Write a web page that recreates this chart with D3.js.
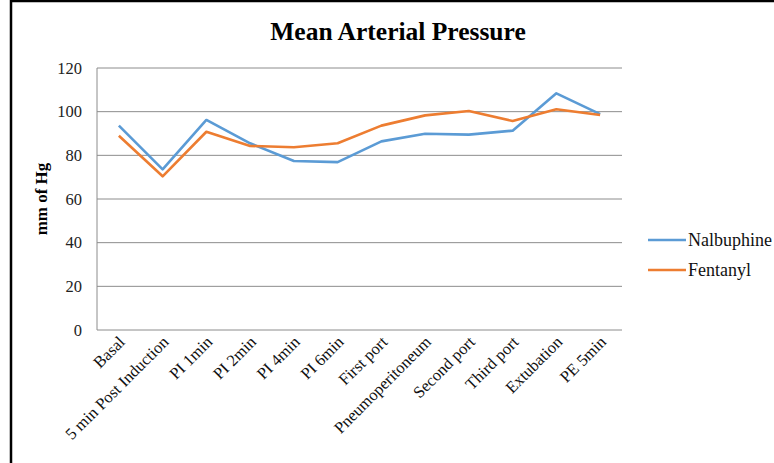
<!DOCTYPE html>
<html>
<head>
<meta charset="utf-8">
<script src="https://cdn.jsdelivr.net/npm/d3@7"></script>
<style>
	body { margin: 0; background: #fff; }
	svg { display: block; }
</style>
</head>
<body>
<div id="chart"></div>
<script>
const categories = ['Basal', '5 min Post Induction', 'PI 1min', 'PI 2min', 'PI 4min', 'PI 6min',
	'First port', 'Pneumoperitoneum', 'Second port', 'Third port', 'Extubation', 'PE 5min'];
const nalbuphine = [93.6, 73.6, 96.2, 85.5, 77.4, 76.9, 86.4, 89.9, 89.5, 91.3, 108.4, 98.9];
const fentanyl = [89.0, 70.4, 90.8, 84.3, 83.7, 85.5, 93.6, 98.3, 100.3, 95.7, 101.1, 98.5];
const yTicks = [0, 20, 40, 60, 80, 100, 120];

const series = [
	{ name: 'Nalbuphine', values: nalbuphine, color: '#5b9bd5' },
	{ name: 'Fentanyl', values: fentanyl, color: '#ed7d31' },
];

const width = 774;
const height = 463;
const plot = { left: 97, right: 622, top: 68, bottom: 330 };
const serif = '"Liberation Serif", "Times New Roman", serif';

const svg = d3.select('#chart').append('svg')
	.attr('width', width)
	.attr('height', height);

// outer frame
svg.append('rect')
	.attr('x', 11).attr('y', 1)
	.attr('width', width + 10).attr('height', height + 10)
	.attr('fill', 'none')
	.attr('stroke', '#000')
	.attr('stroke-width', 2.5);

const x = d3.scaleBand().domain(categories).range([plot.left, plot.right]);
const y = d3.scaleLinear().domain([0, 120]).range([plot.bottom, plot.top]);

// gridlines
svg.append('g')
	.selectAll('line')
	.data(yTicks)
	.join('line')
		.attr('x1', plot.left).attr('x2', plot.right)
		.attr('y1', d => y(d)).attr('y2', d => y(d))
		.attr('stroke', '#8c8c8c')
		.attr('stroke-width', 1);

// left axis line
svg.append('line')
	.attr('x1', plot.left).attr('x2', plot.left)
	.attr('y1', plot.top).attr('y2', plot.bottom)
	.attr('stroke', '#8c8c8c');

// y tick labels
const yAxis = svg.append('g')
	.attr('transform', `translate(${plot.left},0)`)
	.call(d3.axisLeft(y).tickValues(yTicks).tickSize(0).tickPadding(15));
yAxis.select('.domain').remove();
yAxis.selectAll('text')
	.attr('font-family', serif)
	.attr('font-size', 16.5)
	.attr('fill', '#222');

// x labels, rotated
const xAxis = svg.append('g')
	.attr('transform', `translate(0,${plot.bottom})`)
	.call(d3.axisBottom(x).tickSize(0).tickPadding(0));
xAxis.select('.domain').remove();
xAxis.selectAll('text')
	.attr('font-family', serif)
	.attr('font-size', 16.5)
	.attr('fill', '#111')
	.attr('text-anchor', 'end')
	.attr('dy', 0)
	.attr('transform', 'translate(7,13) rotate(-45)');

// y title
svg.append('text')
	.attr('transform', `translate(47,${(plot.top + plot.bottom) / 2}) rotate(-90)`)
	.attr('text-anchor', 'middle')
	.attr('font-family', serif)
	.attr('font-weight', 'bold')
	.attr('font-size', 17)
	.text('mm of Hg');

// title
svg.append('text')
	.attr('x', 398).attr('y', 40)
	.attr('text-anchor', 'middle')
	.attr('font-family', serif)
	.attr('font-weight', 'bold')
	.attr('font-size', 25.5)
	.text('Mean Arterial Pressure');

// series lines
const line = d3.line()
	.x((d, i) => x(categories[i]) + x.bandwidth() / 2)
	.y(d => y(d));

svg.append('g')
	.selectAll('path')
	.data(series)
	.join('path')
		.attr('d', d => line(d.values))
		.attr('fill', 'none')
		.attr('stroke', d => d.color)
		.attr('stroke-width', 2.6)
		.attr('stroke-linejoin', 'round');

// legend
const legend = svg.append('g')
	.selectAll('g')
	.data(series)
	.join('g')
		.attr('transform', (d, i) => `translate(648,${240 + i * 30})`);
legend.append('line')
	.attr('x1', 0).attr('x2', 38)
	.attr('stroke', d => d.color)
	.attr('stroke-width', 2.6);
legend.append('text')
	.attr('x', 40).attr('dy', '0.35em')
	.attr('font-family', serif)
	.attr('font-size', 18)
	.attr('fill', '#111')
	.text(d => d.name);
</script>
</body>
</html>
